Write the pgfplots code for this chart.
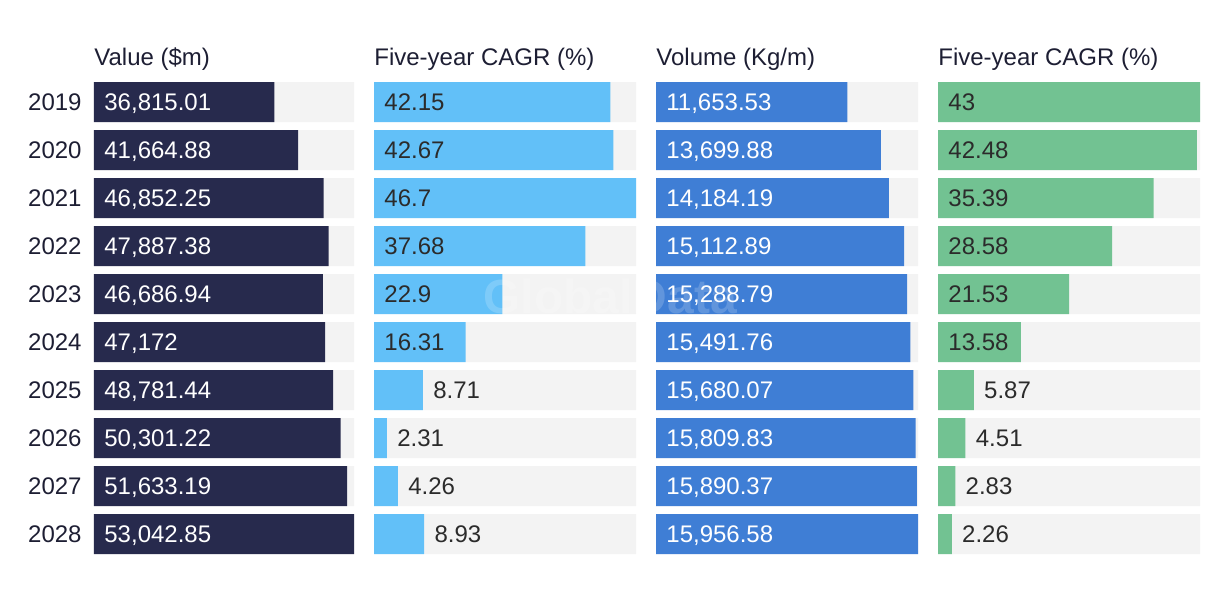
\documentclass[border=0pt]{standalone}
\usepackage{fontspec}
\setmainfont{Liberation Sans}
\usepackage{pgfplots}
\pgfplotsset{compat=1.18}
\usepackage{pgfplotstable}

\definecolor{navy}{HTML}{272A4D}
\definecolor{lblue}{HTML}{62C0F8}
\definecolor{mblue}{HTML}{3F7ED5}
\definecolor{green}{HTML}{72C292}
\definecolor{bggrey}{HTML}{F3F3F3}
\definecolor{txt}{HTML}{1D1E33}
\definecolor{intxt}{HTML}{2B2B2B}

\pgfplotstableread{
y v labx lab
0 36815.01 0 36,815.01
1 41664.88 0 41,664.88
2 46852.25 0 46,852.25
3 47887.38 0 47,887.38
4 46686.94 0 46,686.94
5 47172 0 47,172
6 48781.44 0 48,781.44
7 50301.22 0 50,301.22
8 51633.19 0 51,633.19
9 53042.85 0 53,042.85
}\tabA

\pgfplotstableread{
y v labx lab
0 42.15 0 42.15
1 42.67 0 42.67
2 46.7 0 46.7
3 37.68 0 37.68
4 22.9 0 22.9
5 16.31 0 16.31
6 8.71 8.71 8.71
7 2.31 2.31 2.31
8 4.26 4.26 4.26
9 8.93 8.93 8.93
}\tabB

\pgfplotstableread{
y v labx lab
0 11653.53 0 11,653.53
1 13699.88 0 13,699.88
2 14184.19 0 14,184.19
3 15112.89 0 15,112.89
4 15288.79 0 15,288.79
5 15491.76 0 15,491.76
6 15680.07 0 15,680.07
7 15809.83 0 15,809.83
8 15890.37 0 15,890.37
9 15956.58 0 15,956.58
}\tabC

\pgfplotstableread{
y v labx lab
0 43 0 43
1 42.48 0 42.48
2 35.39 0 35.39
3 28.58 0 28.58
4 21.53 0 21.53
5 13.58 0 13.58
6 5.87 5.87 5.87
7 4.51 4.51 4.51
8 2.83 2.83 2.83
9 2.26 2.26 2.26
}\tabD

\pgfplotsset{
  panel/.style={
    scale only axis, width=131pt, height=240pt,
    xmin=0, ymin=-0.5, ymax=9.5, y dir=reverse,
    axis line style={draw=none},
    xtick=\empty, ytick=\empty,
    major tick length=0pt,
    clip=false,
    anchor=north west,
    title style={at={(0,1)}, anchor=base west, yshift=0.5pt, inner sep=0pt,
      font=\fontsize{12}{14}\selectfont, text=txt},
  },
  bg/.style={xbar, bar width=20pt, bar shift=0pt, fill=bggrey, draw=none},
  fg/.style={xbar, bar width=20pt, bar shift=0pt, fill=#1, draw=none},
  lbl/.style={draw=none, mark=none, nodes near coords, point meta=explicit symbolic,
    every node near coord/.append style={anchor=base west, inner sep=0pt, xshift=5pt, yshift=-4.4pt,
      font=\fontsize{12}{14}\selectfont, text=#1}},
}

\begin{document}
\begin{tikzpicture}
\useasboundingbox (0,0) rectangle (610pt,298pt);

\begin{axis}[panel, at={(47pt,259pt)}, width=130pt, xmax=53042.85, title={Value (\$m)},
  ytick={0,...,9}, yticklabels={2019,2020,2021,2022,2023,2024,2025,2026,2027,2028},
  yticklabel style={font=\fontsize{12}{14}\selectfont, text=txt, inner sep=0pt, xshift=-6pt}]
\addplot[bg] table[x expr=53042.85, y=y] {\tabA};
\addplot[fg=navy] table[x=v, y=y] {\tabA};
\addplot[lbl=white] table[x=labx, y=y, meta=lab] {\tabA};
\end{axis}

\begin{axis}[panel, at={(187pt,259pt)}, xmax=46.7, title={Five-year CAGR (\%)}]
\addplot[bg] table[x expr=46.7, y=y] {\tabB};
\addplot[fg=lblue] table[x=v, y=y] {\tabB};
\addplot[lbl=intxt] table[x=labx, y=y, meta=lab] {\tabB};
\end{axis}

\begin{axis}[panel, at={(328pt,259pt)}, xmax=15956.58, title={Volume (Kg/m)}]
\addplot[bg] table[x expr=15956.58, y=y] {\tabC};
\addplot[fg=mblue] table[x=v, y=y] {\tabC};
\addplot[lbl=white] table[x=labx, y=y, meta=lab] {\tabC};
\end{axis}

\begin{axis}[panel, at={(469pt,259pt)}, xmax=43, title={Five-year CAGR (\%)}]
\addplot[bg] table[x expr=43, y=y] {\tabD};
\addplot[fg=green] table[x=v, y=y] {\tabD};
\addplot[lbl=intxt] table[x=labx, y=y, meta=lab] {\tabD};
\end{axis}

\node[text=white, opacity=0.18, font=\fontsize{24}{28}\selectfont\bfseries] at (305pt,150pt) {GlobalData};
\end{tikzpicture}
\end{document}
